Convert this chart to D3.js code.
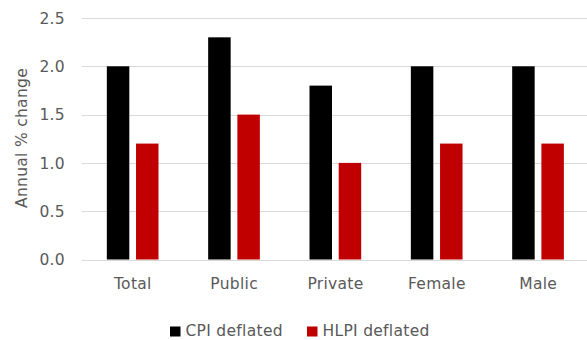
<!DOCTYPE html>
<html>
<head>
<meta charset="utf-8">
<script src="https://cdn.jsdelivr.net/npm/d3@7"></script>
<style>
  html, body { margin: 0; padding: 0; background: #fff; }
  svg { display: block; font-family: "DejaVu Sans", sans-serif; }
</style>
</head>
<body>
<svg id="chart" width="587" height="340"></svg>
<script>
// Annual % change in earnings by group, deflated two ways
const categories = ["Total", "Public", "Private", "Female", "Male"];
const seriesNames = ["CPI deflated", "HLPI deflated"];
const cpiDeflated = [2.0, 2.3, 1.8, 2.0, 2.0];
const hlpiDeflated = [1.2, 1.5, 1.0, 1.2, 1.2];
const yTicks = [0, 0.5, 1.0, 1.5, 2.0, 2.5];
const colors = ["#000000", "#c00000"];

const svg = d3.select("#chart");
const plot = { left: 82, right: 588.7, top: 18, bottom: 259.5 };
const textColor = "#595959";
const fontSize = 15.5;
const tracking = 0.3;

const x = d3.scaleBand()
  .domain(categories)
  .range([plot.left, plot.right])
  .paddingInner(0)
  .paddingOuter(0);

const x1 = d3.scaleBand()
  .domain(seriesNames)
  .range([0, x.bandwidth()])
  .paddingInner(0.23)
  .paddingOuter(0.85);

const y = d3.scaleLinear().domain([0, 2.5]).range([plot.bottom, plot.top]);

function styleText(sel) {
  sel.attr("fill", textColor)
    .attr("font-size", fontSize)
    .attr("letter-spacing", tracking)
    .attr("font-family", "'DejaVu Sans', sans-serif");
}

// Horizontal gridlines
svg.append("g")
  .selectAll("line")
  .data(yTicks)
  .join("line")
  .attr("x1", plot.left)
  .attr("x2", plot.right)
  .attr("y1", d => Math.round(y(d)) + 0.5)
  .attr("y2", d => Math.round(y(d)) + 0.5)
  .attr("stroke", "#d9d9d9")
  .attr("stroke-width", 1.2);

// Y axis tick labels
const yAxis = d3.axisLeft(y).tickValues(yTicks).tickFormat(d3.format(".1f")).tickSize(0).tickPadding(0);
svg.append("g")
  .attr("transform", `translate(65,0)`)
  .call(yAxis)
  .call(g => g.select(".domain").remove())
  .call(g => g.selectAll("text").call(styleText).attr("dy", "0.34em"));

// Bars
const rows = categories.map((c, i) => ({ category: c, values: [cpiDeflated[i], hlpiDeflated[i]] }));
const groups = svg.append("g")
  .selectAll("g")
  .data(rows)
  .join("g")
  .attr("transform", d => `translate(${x(d.category)},0)`);

groups.selectAll("rect")
  .data(d => d.values.map((v, j) => ({ name: seriesNames[j], value: v, color: colors[j] })))
  .join("rect")
  .attr("x", d => x1(d.name))
  .attr("width", x1.bandwidth())
  .attr("y", d => y(d.value))
  .attr("height", d => y(0) - y(d.value))
  .attr("fill", d => d.color);

// X axis category labels
const xAxis = d3.axisBottom(x).tickSize(0).tickPadding(0);
svg.append("g")
  .attr("transform", `translate(0,288.5)`)
  .call(xAxis)
  .call(g => g.select(".domain").remove())
  .call(g => g.selectAll("text").call(styleText).attr("dy", 0)
    .attr("dx", tracking / 2));

// Y axis title
svg.append("text")
  .attr("transform", "translate(27,138) rotate(-90)")
  .attr("text-anchor", "middle")
  .call(styleText)
  .text("Annual % change");

// Legend
const legendItems = [
  { name: seriesNames[0], color: colors[0], x: 170 },
  { name: seriesNames[1], color: colors[1], x: 307 }
];
const legend = svg.append("g")
  .selectAll("g")
  .data(legendItems)
  .join("g")
  .attr("transform", d => `translate(${d.x},326.5)`);
legend.append("rect")
  .attr("width", 10.5)
  .attr("height", 10)
  .attr("fill", d => d.color);
legend.append("text")
  .attr("x", 15.5)
  .attr("y", 9.5)
  .call(styleText)
  .text(d => d.name);
</script>
</body>
</html>
